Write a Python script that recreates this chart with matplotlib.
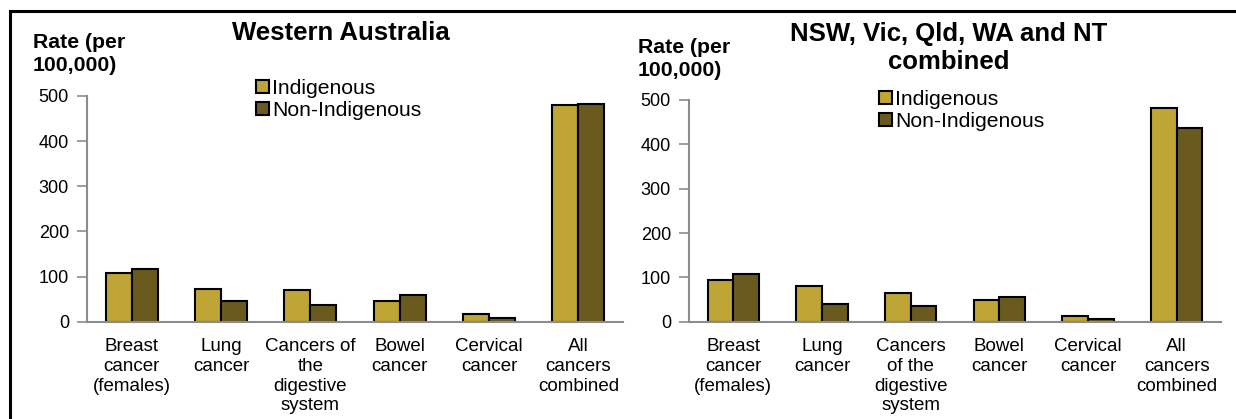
import matplotlib
matplotlib.use("Agg")
import numpy as np
import matplotlib.pyplot as plt
from matplotlib.lines import Line2D

plt.rcParams['font.family'] = ['Liberation Sans', 'DejaVu Sans']

categories = ["Breast\ncancer\n(females)", "Lung\ncancer", "Cancers of\nthe\ndigestive\nsystem",
              "Bowel\ncancer", "Cervical\ncancer", "All\ncancers\ncombined"]
categories_right = ["Breast\ncancer\n(females)", "Lung\ncancer", "Cancers\nof the\ndigestive\nsystem",
                    "Bowel\ncancer", "Cervical\ncancer", "All\ncancers\ncombined"]

wa_indigenous = [107, 72, 70, 46, 16, 479]
wa_non_indigenous = [117, 45, 38, 59, 7.5, 482]

all_indigenous = [93, 80, 65, 50, 13.5, 482]
all_non_indigenous = [108, 40, 36, 56, 6, 436]

series_labels = ["Indigenous", "Non-Indigenous"]
yticks = [0, 100, 200, 300, 400, 500]

IND_COLOR = "#BEA535"
NON_COLOR = "#6A5A1E"
AXIS_GREY = "#8C8C8C"

W, H = 1236, 419
fig = plt.figure(figsize=(W / 100, H / 100), dpi=100)


def fx(px):
    return px / W


def fy(py):
    return 1 - py / H


def draw_panel(rect, ind, non, cats):
    ax = fig.add_axes(rect)
    x = np.arange(len(cats))
    bw = 0.29
    b1 = ax.bar(x - bw / 2, ind, bw, color=IND_COLOR, edgecolor="black", linewidth=1.5)
    b2 = ax.bar(x + bw / 2, non, bw, color=NON_COLOR, edgecolor="black", linewidth=1.5)
    ax.set_xlim(-0.5, len(cats) - 0.5)
    ax.set_ylim(0, 500)
    ax.set_yticks(yticks)
    ax.set_xticks(x)
    ax.set_xticklabels(cats, fontsize=13.5, linespacing=1.2, va="top")
    ax.tick_params(axis="x", length=0, pad=12)
    ax.tick_params(axis="y", length=7, width=1.2, color=AXIS_GREY, labelsize=13, pad=6)
    for s in ["top", "right"]:
        ax.spines[s].set_visible(False)
    for s in ["left", "bottom"]:
        ax.spines[s].set_color(AXIS_GREY)
        ax.spines[s].set_linewidth(1.5)
    return ax, b1, b2


axL, l1, l2 = draw_panel([fx(87), fy(321.7), fx(623) - fx(87), (321.7 - 96) / H],
                         wa_indigenous, wa_non_indigenous, categories)
axR, r1, r2 = draw_panel([fx(689), fy(321.7), fx(1221) - fx(689), (321.7 - 100) / H],
                         all_indigenous, all_non_indigenous, categories_right)

# titles and axis labels
fig.text(fx(341), fy(33), "Western Australia", ha="center", va="center",
         fontsize=18.5, fontweight="bold")
fig.text(fx(949), fy(48), "NSW, Vic, Qld, WA and NT\ncombined", ha="center", va="center",
         fontsize=18.5, fontweight="bold", linespacing=1.2)
fig.text(fx(33), fy(54), "Rate (per\n100,000)", ha="left", va="center",
         fontsize=15.3, fontweight="bold", linespacing=1.25)
fig.text(fx(638), fy(59), "Rate (per\n100,000)", ha="left", va="center",
         fontsize=15.3, fontweight="bold", linespacing=1.25)

# legends
legL = fig.legend([l1, l2], series_labels, loc="upper left",
                  bbox_to_anchor=(fx(256), fy(79)), frameon=False, fontsize=15.2,
                  handlelength=0.6, handleheight=0.6, handletextpad=0.15,
                  labelspacing=0.15, borderpad=0, borderaxespad=0)
legR = fig.legend([r1, r2], series_labels, loc="upper left",
                  bbox_to_anchor=(fx(879), fy(90)), frameon=False, fontsize=15.2,
                  handlelength=0.6, handleheight=0.6, handletextpad=0.15,
                  labelspacing=0.15, borderpad=0, borderaxespad=0)

# outer frame (cut off at right and bottom)
fig.add_artist(Line2D([fx(10), fx(10)], [0, fy(11)], color="black", linewidth=2.2))
fig.add_artist(Line2D([fx(10), 1], [fy(11), fy(11)], color="black", linewidth=2.2))

fig.savefig("out.png", dpi=100)
